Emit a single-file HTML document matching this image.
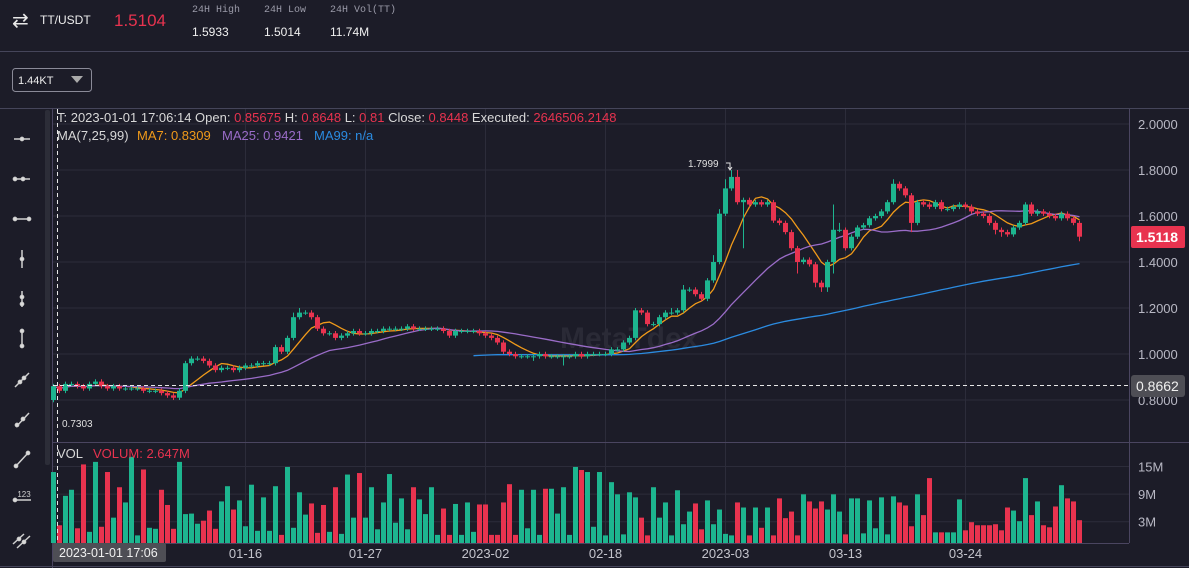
<!DOCTYPE html>
<html><head><meta charset="utf-8">
<style>
body{margin:0;background:#1c1c28;width:1189px;height:568px;overflow:hidden;font-family:"Liberation Sans",sans-serif;}
svg{display:block}
</style></head>
<body>
<svg id="c" width="1189" height="568" xmlns="http://www.w3.org/2000/svg">
<rect x="0" y="0" width="1189" height="568" fill="#1c1c28"/>
<g>
  <text x="12" y="27" fill="#e8e8e8" font-size="20">⇄</text>
  <text x="40" y="24" fill="#eeeeee" font-size="12">TT/USDT</text>
  <text x="114" y="26" fill="#e8334f" font-size="17">1.5104</text>
  <text x="192" y="12" fill="#9a9aa8" font-size="10" font-family="Liberation Mono,monospace">24H High</text>
  <text x="264" y="12" fill="#9a9aa8" font-size="10" font-family="Liberation Mono,monospace">24H Low</text>
  <text x="330" y="12" fill="#9a9aa8" font-size="10" font-family="Liberation Mono,monospace">24H Vol(TT)</text>
  <text x="192" y="36" fill="#f0f0f0" font-size="12">1.5933</text>
  <text x="264" y="36" fill="#f0f0f0" font-size="12">1.5014</text>
  <text x="330" y="36" fill="#f0f0f0" font-size="12">11.74M</text>
  <line x1="0" y1="51.5" x2="1189" y2="51.5" stroke="#45455a"/>
</g>
<g>
  <rect x="12.5" y="68.5" width="79" height="23" rx="3" fill="none" stroke="#8a8a98"/>
  <text x="18" y="84" fill="#eeeeee" font-size="11">1.44KT</text>
  <polygon points="71,76 83,76 77,83" fill="#aaaaaa"/>
</g>
<line x1="0" y1="108.5" x2="1189" y2="108.5" stroke="#45455a"/>
<rect x="45" y="110" width="5" height="355" rx="2" fill="#2c2d38"/>
<line x1="52.5" y1="108" x2="52.5" y2="568" stroke="#4a4560"/>
<g id="toolbar"></g>
<g id="grid"></g>
<text x="560" y="348" fill="#2a2a36" font-size="30" font-weight="bold">MetaTdex</text>
<g id="ma"></g>
<g id="candles"></g>
<g id="vols"></g>
<g id="overlay"></g>
</svg>
<script>
const NS="http://www.w3.org/2000/svg";
const closes=[0.86,0.84,0.87,0.87,0.86,0.85,0.87,0.88,0.86,0.85,
0.86,0.85,0.85,0.85,0.85,0.84,0.84,0.84,0.83,0.82,
0.81,0.84,0.96,0.98,0.98,0.97,0.95,0.93,0.94,0.94,
0.93,0.94,0.95,0.95,0.96,0.96,0.96,1.03,1.01,1.07,
1.16,1.18,1.18,1.16,1.11,1.09,1.09,1.07,1.08,1.09,
1.10,1.09,1.09,1.10,1.10,1.11,1.11,1.11,1.11,1.12,
1.11,1.11,1.11,1.11,1.11,1.10,1.08,1.10,1.10,1.10,
1.10,1.09,1.08,1.07,1.05,1.01,1.00,0.99,0.99,0.99,
0.99,1.00,0.99,0.99,0.99,0.99,0.99,1.00,0.99,1.00,
1.00,1.00,1.00,1.02,1.02,1.05,1.07,1.19,1.18,1.13,
1.13,1.16,1.18,1.18,1.19,1.28,1.28,1.26,1.24,1.32,
1.40,1.61,1.72,1.77,1.66,1.67,1.65,1.66,1.65,1.66,
1.58,1.57,1.53,1.46,1.40,1.41,1.39,1.31,1.29,1.40,
1.54,1.54,1.46,1.51,1.55,1.56,1.59,1.60,1.62,1.66,
1.74,1.72,1.69,1.57,1.66,1.65,1.64,1.66,1.63,1.63,
1.64,1.65,1.64,1.62,1.61,1.60,1.57,1.54,1.53,1.52,
1.55,1.57,1.65,1.61,1.62,1.61,1.60,1.59,1.61,1.59,
1.57,1.51];
const firstOpen=0.80;
// wick extents in hundredths
const wickHi=[1,1,1,1,1,1,1,1,1,1, 1,1,1,1,1,1,1,1,1,1, 1,1,1,1,1,1,1,1,1,1, 1,1,1,1,1,1,1,1,1,1, 2,2,1,1,1,1,1,1,1,1, 1,1,1,1,1,1,1,1,1,1, 1,1,1,1,1,1,1,1,1,1, 1,1,1,1,1,1,1,1,1,1, 1,1,1,1,1,1,1,1,1,1, 1,1,1,1,1,1,1,1,1,1, 1,1,1,2,1,2,1,1,1,1, 3,2,4,3,3,1,1,1,1,1, 1,1,1,1,1,1,1,1,1,1, 11,3,1,1,1,1,1,1,1,1, 2,1,1,1,1,1,1,1,1,1, 1,1,1,1,1,1,1,1,1,1, 1,1,1,1,1,1,1,1,1,1, 1,1];
const wickLo=[1,1,1,1,1,1,1,1,1,1, 1,1,1,1,1,1,1,1,1,1, 1,1,1,1,1,1,1,1,1,1, 1,1,1,1,1,1,1,1,1,1, 1,1,1,1,1,1,1,1,1,1, 1,1,1,1,1,1,1,1,1,1, 1,1,1,1,1,1,1,1,1,1, 1,1,1,1,1,1,1,1,1,1, 2,1,1,1,1,4,1,1,1,1, 1,1,1,1,1,1,1,1,1,1, 1,1,1,1,1,1,1,1,1,1, 1,1,1,1,1,20,1,1,1,1, 1,1,1,1,5,1,1,2,2,2, 5,1,1,1,1,1,1,1,1,1, 1,1,1,4,1,1,1,1,1,1, 1,1,1,1,1,1,1,2,2,1, 1,1,1,1,1,1,1,1,1,1, 1,2];
const volumes=[14,3.5,9.3,10.5,2.9,15.5,2.2,16,3.2,14,
5,11,8,17,1.5,14.5,3,2.8,10.5,7.5,
2.8,16,5.7,5.8,3.8,4.4,6.4,2.8,8.2,11.2,
6.6,8.4,3.3,11.5,2.4,9,2.4,11.2,1.6,15,
3,10,5.6,7.8,2,7.5,2.2,11,1.8,13.5,
5,13.8,5,11,2.7,8,13.6,4,8.8,2.7,
11,8.6,5.7,11,1.6,6.8,1.6,7.7,1.6,8,
2.2,7.6,7.6,1.6,1.6,8,11.6,1.6,10.5,2.9,
10.5,1.6,10.7,10.7,5.8,11,1.6,15,14.4,14,
3.2,14,1.5,12,9.6,1.7,10,9,5,1.5,
11,5,8,1.5,10.4,3.7,6.2,7.8,2.7,8.4,
3.7,6.6,1.8,1.5,8,7,1.5,7,3,7,
1.5,8.8,4.9,6.2,1.5,9.6,8.2,6.8,8.2,6.6,
9.6,6.2,1.7,8.8,8.8,1.9,8.4,2.9,9,1.7,
9.2,8,7.4,3.3,9.6,5.5,12.8,2.1,2.1,2.1,
2.1,8.6,2.5,4.1,3.5,3.5,3.5,3.7,2.5,7,
6.4,4.3,12.8,5.5,8.2,3.5,3.1,7.2,11.4,8.8,
8.2,4.5];
const priceTicks=[2.0,1.8,1.6,1.4,1.2,1.0,0.8];
const priceTickLabels=["2.0000","1.8000","1.6000","1.4000","1.2000","1.0000","0.8000"];
const volTicks=[15,9,3];
const volTickLabels=["15M","9M","3M"];
const dateTickIdx=[32,52,72,92,112,132,152];
const dateTickLabels=["01-16","01-27","2023-02","02-18","2023-03","03-13","03-24"];
const ma99Start=70;

const X0=53.5,STEP=6;
const xs=i=>X0+i*STEP;
const yp=p=>124+(2.0-p)*230;
const yv=v=>543-v*5.07;
const yvTick=v=>535.5-v*4.6;
const GREEN="#1db58f",RED="#e8334f";
function mk(tag,attrs,parent){const e=document.createElementNS(NS,tag);for(const k in attrs)e.setAttribute(k,attrs[k]);parent.appendChild(e);return e;}

const grid=document.getElementById('grid');
priceTicks.forEach((p,k)=>{
  const l=mk('line',{x1:53,x2:1129,y1:yp(p),y2:yp(p),stroke:'#2c2c3a'},grid);
  
  
  const t=mk('text',{x:1138,y:yp(p)+5,fill:'#b8b8c4','font-size':13},grid);
  t.textContent=priceTickLabels[k];
  
  
});
volTicks.forEach((v,k)=>{
  const l=mk('line',{x1:53,x2:1129,y1:yvTick(v),y2:yvTick(v),stroke:'#2c2c3a'},grid);
  
  
  const t=mk('text',{x:1138,y:yvTick(v)+5,fill:'#b8b8c4','font-size':13},grid);
  t.textContent=volTickLabels[k];
  
  
});
dateTickIdx.forEach((idx,k)=>{
  const x=xs(idx);
  const l=mk('line',{x1:x,x2:x,y1:109,y2:543,stroke:'#2c2c3a'},grid);
  
  
  const t=mk('text',{x:x,y:558,fill:'#c4c4cc','font-size':13,'text-anchor':'middle'},grid);
  t.textContent=dateTickLabels[k];
  
  
});
mk('line',{x1:1129.5,x2:1129.5,y1:109,y2:543,stroke:'#4a4560'},grid);
mk('line',{x1:53,x2:1189,y1:442.5,y2:442.5,stroke:'#4a4560'},grid);
mk('line',{x1:53,x2:1129,y1:543.5,y2:543.5,stroke:'#4a4560'},grid);
mk('line',{x1:0,x2:1189,y1:566.5,y2:566.5,stroke:'#45455a'},grid);

// candles
const cg=document.getElementById('candles');
const vg=document.getElementById('vols');
closes.forEach((c,i)=>{
  const o=i===0?firstOpen:closes[i-1];
  const up=c>=o;
  const col=up?GREEN:RED;
  const hi=Math.max(o,c)+wickHi[i]/100, lo=Math.min(o,c)-wickLo[i]/100;
  const x=xs(i);
  const w=mk('line',{x1:x,x2:x,y1:yp(hi),y2:yp(lo),stroke:col,'stroke-width':1},cg);
  
  
  const top=yp(Math.max(o,c)),bot=yp(Math.min(o,c));
  const r=mk('rect',{x:x-2.5,y:top,width:5,height:Math.max(1,bot-top),fill:col},cg);
  
  
  const v=volumes[i];
  const b=mk('rect',{x:x-2.5,y:yv(v),width:5,height:543-yv(v),fill:col},vg);
  
  
});

// moving averages
function ma(n,start){const out=[];for(let i=0;i<closes.length;i++){if(i<start){out.push(null);continue;}const a=Math.max(0,i-n+1);let s=0;for(let j=a;j<=i;j++)s+=closes[j];out.push(s/(i-a+1));}return out;}
const mag=document.getElementById('ma');
[[ma(7,0),'#f09a1a','ma7-line'],[ma(25,0),'#9a6cc8','ma25-line'],[ma(99,ma99Start),'#2b8be0','ma99-line']].forEach(([arr,col,name])=>{
  let d='';arr.forEach((v,i)=>{if(v==null)return;d+=(d?'L':'M')+xs(i).toFixed(1)+','+yp(v).toFixed(1);});
  const p=mk('path',{d:d,fill:'none',stroke:col,'stroke-width':1.3},mag);
  
  
});

// toolbar icons
const tb=document.getElementById('toolbar');
const ty=[139,179,219,259,299,339,379,419,459,499,539];
const icons=[
 '<line x1="-8" y1="0" x2="8" y2="0"/><circle cx="0" cy="0" r="1.6"/>',
 '<line x1="-8" y1="0" x2="8" y2="0"/><circle cx="-7" cy="0" r="1.6"/><circle cx="1" cy="0" r="1.6"/>',
 '<line x1="-8" y1="0" x2="8" y2="0"/><circle cx="-7" cy="0" r="1.6"/><circle cx="7" cy="0" r="1.6"/>',
 '<line x1="0" y1="-9" x2="0" y2="9"/><circle cx="0" cy="0" r="1.6"/>',
 '<line x1="0" y1="-8" x2="0" y2="8"/><circle cx="0" cy="-2" r="1.6"/><circle cx="0" cy="5" r="1.6"/>',
 '<line x1="0" y1="-8" x2="0" y2="8"/><circle cx="0" cy="-8" r="1.6"/><circle cx="0" cy="7" r="1.6"/>',
 '<line x1="-7" y1="8" x2="7" y2="-6"/><circle cx="-2" cy="3" r="1.6"/><circle cx="2" cy="-1" r="1.6"/>',
 '<line x1="-6" y1="8" x2="7" y2="-6"/><circle cx="-5" cy="6" r="1.6"/><circle cx="1" cy="0" r="1.6"/>',
 '<line x1="-6" y1="7" x2="6" y2="-6"/><circle cx="-6" cy="7" r="1.6"/><circle cx="6" cy="-6" r="1.6"/>',
 '<line x1="-7" y1="1" x2="9" y2="1"/><circle cx="-7" cy="1" r="1.6"/><text x="2" y="-2" font-size="8" text-anchor="middle" stroke="none" fill="#d0d0d0">123</text>',
 '<line x1="-9" y1="5" x2="2" y2="-5"/><line x1="-5" y1="9" x2="8" y2="-3"/><circle cx="-3" cy="0" r="1.6"/><circle cx="2" cy="3" r="1.6"/>'
];
ty.forEach((y,k)=>{
  const g=mk('g',{transform:`translate(22,${y})`,stroke:'#d0d0d0',fill:'#e0e0e0','stroke-width':1.5},tb);
  g.innerHTML=icons[k];
  
  
});

// overlays
const ov=document.getElementById('overlay');
ov.innerHTML=`
<line x1="53" x2="1130" y1="385.5" y2="385.5" stroke="#e8e8e8" stroke-dasharray="4,3"/>
<line x1="57.5" x2="57.5" y1="109" y2="545" stroke="#e8e8e8" stroke-dasharray="4,3"/>
<rect x="1131" y="226" width="54" height="22" rx="2" fill="#e8334f"/>
<text x="1136" y="242" fill="#fff" font-size="14" font-weight="bold">1.5118</text>
<rect x="1131" y="375" width="54" height="22" rx="3" fill="#4e4e55"/>
<text x="1136" y="391" fill="#f0f0f0" font-size="14">0.8662</text>
<rect x="53" y="543" width="113" height="19" rx="2" fill="#4e4e55"/>
<text x="59" y="557" fill="#f0f0f0" font-size="12.5">2023-01-01 17:06</text>
<text x="688" y="167" fill="#e0e0e0" font-size="10">1.7999</text>
<path d="M726,163 h4 v6 M728,167 l2,3 l2,-3" stroke="#e0e0e0" fill="none"/>
<text x="62" y="427" fill="#e0e0e0" font-size="10">0.7303</text>
<text x="57" y="122" font-size="13" fill="#d8d8d8">T: 2023-01-01 17:06:14 Open: <tspan fill="#e8334f">0.85675</tspan>  H: <tspan fill="#e8334f">0.8648</tspan>  L: <tspan fill="#e8334f">0.81</tspan>  Close: <tspan fill="#e8334f">0.8448</tspan>  Executed: <tspan fill="#e8334f">2646506.2148</tspan></text>
<text x="57" y="140" font-size="13" fill="#d8d8d8">MA(7,25,99)<tspan x="137" fill="#f09a1a">MA7: 0.8309</tspan><tspan x="222" fill="#9a6cc8">MA25: 0.9421</tspan><tspan x="314" fill="#2b8be0">MA99: n/a</tspan></text>
<text x="57" y="458" font-size="13" fill="#d8d8d8">VOL<tspan x="93" fill="#e8334f">VOLUM: 2.647M</tspan></text>`;
</script>
</body></html>
